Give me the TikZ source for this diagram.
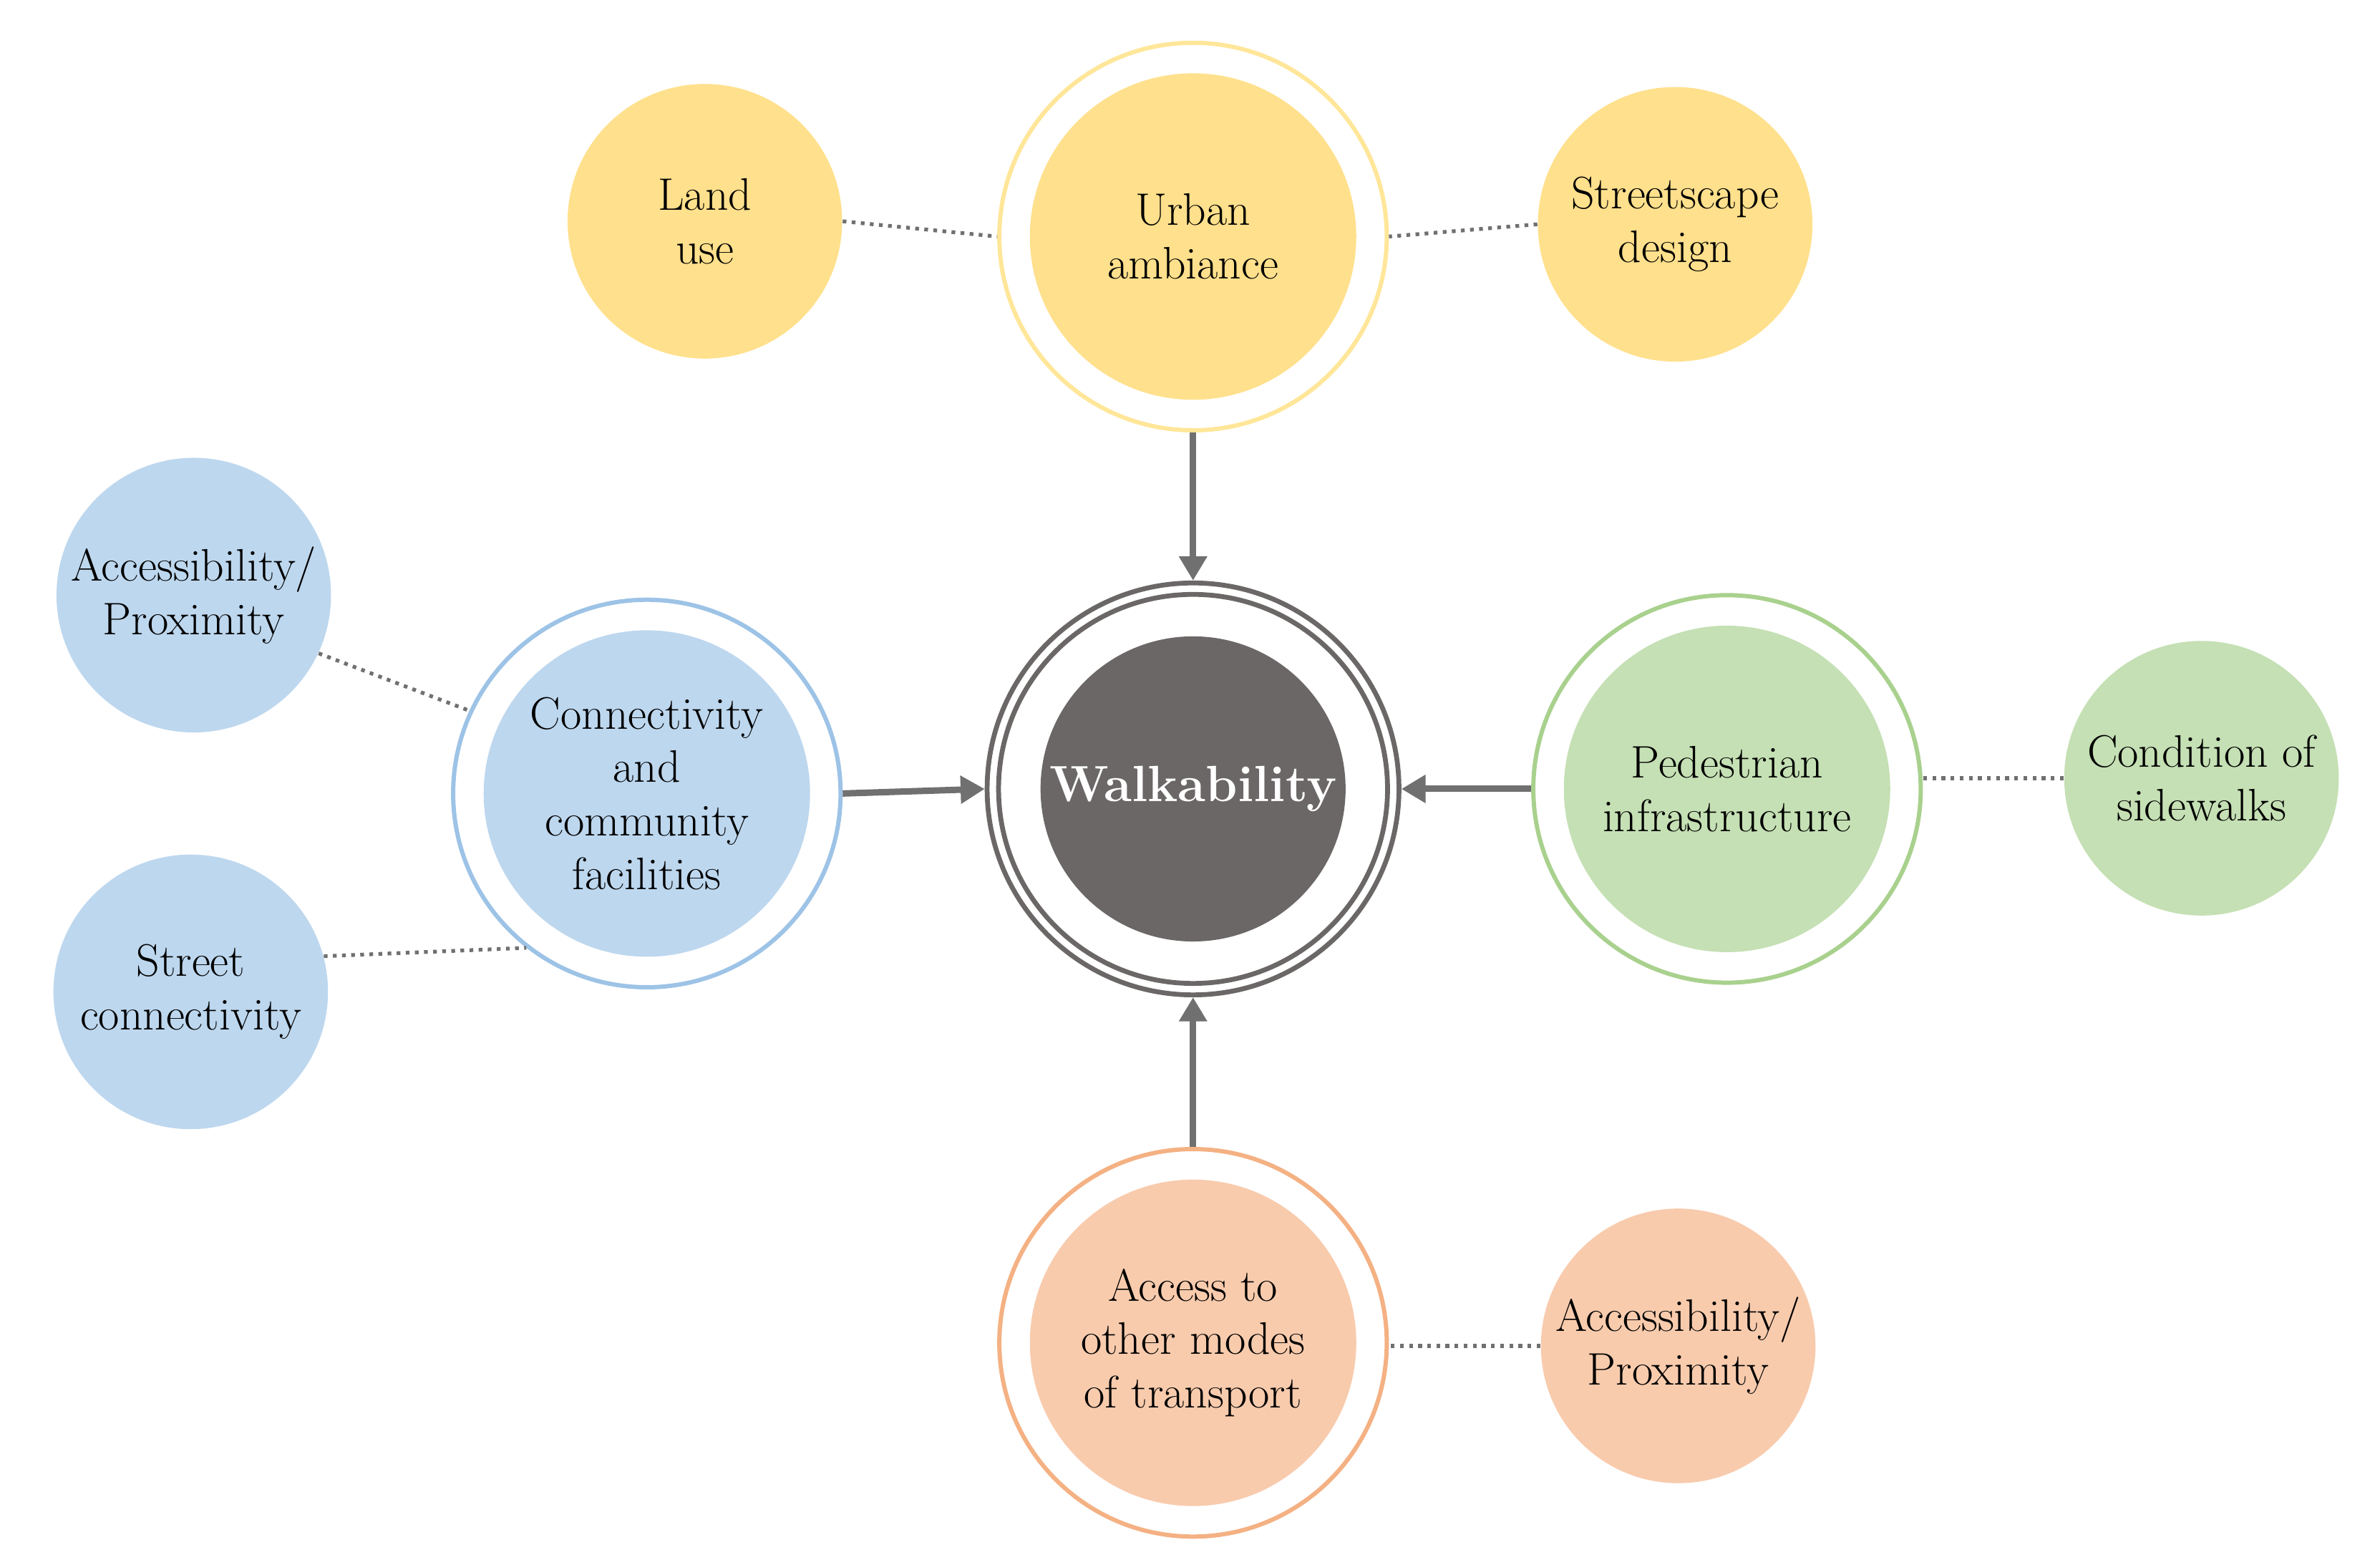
\documentclass[tikz,border=0pt]{standalone}
\usetikzlibrary{arrows.meta}
\definecolor{yel}{HTML}{FFE08C}
\definecolor{yelr}{HTML}{FFE699}
\definecolor{blu}{HTML}{BDD7EE}
\definecolor{blur}{HTML}{9DC3E6}
\definecolor{grn}{HTML}{C5E0B4}
\definecolor{grnr}{HTML}{A9D18E}
\definecolor{org}{HTML}{F8CBAD}
\definecolor{orgr}{HTML}{F4B183}
\definecolor{dk}{HTML}{6B6767}
\definecolor{arr}{HTML}{707070}
\begin{document}
\begin{tikzpicture}[x=0.02cm,y=-0.02cm,
  every node/.style={font=\fontsize{17}{20}\selectfont, align=center, text=black},
  inner/.style={circle, inner sep=0pt, minimum size=4.28cm},
  small/.style={circle, inner sep=0pt, minimum size=3.6cm},
  ring/.style={circle, inner sep=0pt, minimum size=5.08cm, line width=1.6pt},
  dots/.style={dotted, line width=1.4pt, draw=arr},
  arrw/.style={-{Triangle[length=9pt,width=10pt]}, line width=2.4pt, draw=arr}]
\useasboundingbox (0,0) rectangle (1560,1022);
% center
\node[circle, draw=dk, line width=1.8pt, minimum size=5.4cm, inner sep=0pt] (wr) at (782,517) {};
\node[circle, draw=dk, line width=1.8pt, minimum size=5.1cm, inner sep=0pt] at (782,517) {};
\node[circle, fill=dk, minimum size=4.0cm, inner sep=0pt, text=white, font=\fontsize{19}{22}\selectfont\bfseries] (w) at (782,517) {Walkability};
% top
\node[ring, draw=yelr] (ur) at (782,155) {};
\node[inner, fill=yel] (u) at (782,155) {Urban\\ambiance};
\node[small, fill=yel] (lu) at (462,145) {Land\\use};
\node[small, fill=yel] (sd) at (1098,147) {Streetscape\\design};
% left
\node[ring, draw=blur] (cr) at (424,520) {};
\node[inner, fill=blu] (c) at (424,520) {Connectivity\\and\\community\\facilities};
\node[small, fill=blu] (ap) at (127,390) {Accessibility/\\Proximity};
\node[small, fill=blu] (sc) at (125,650) {Street\\connectivity};
% right
\node[ring, draw=grnr] (pr) at (1132,517) {};
\node[inner, fill=grn] (p) at (1132,517) {Pedestrian\\infrastructure};
\node[small, fill=grn] (cs) at (1443,510) {Condition of\\sidewalks};
% bottom
\node[ring, draw=orgr] (ar) at (782,880) {};
\node[inner, fill=org] (a) at (782,880) {Access to\\other modes\\of transport};
\node[small, fill=org] (ap2) at (1100,882) {Accessibility/\\Proximity};
% arrows
\draw[arrw] (ur.south) -- (wr.north);
\draw[arrw] (cr.east) -- (wr.west);
\draw[arrw] (pr.west) -- (wr.east);
\draw[arrw] (ar.north) -- (wr.south);
% dotted
\draw[dots] (lu.east) -- (ur.west);
\draw[dots] (sd.west) -- (ur.east);
\draw[dots] (ap.-25) -- (cr.155);
\draw[dots] (sc.15) -- (cr.-128);
\draw[dots] (cs.west) -- (pr.east |- cs.west);
\draw[dots] (ap2.west) -- (ar.east |- ap2.west);
\end{tikzpicture}
\end{document}
